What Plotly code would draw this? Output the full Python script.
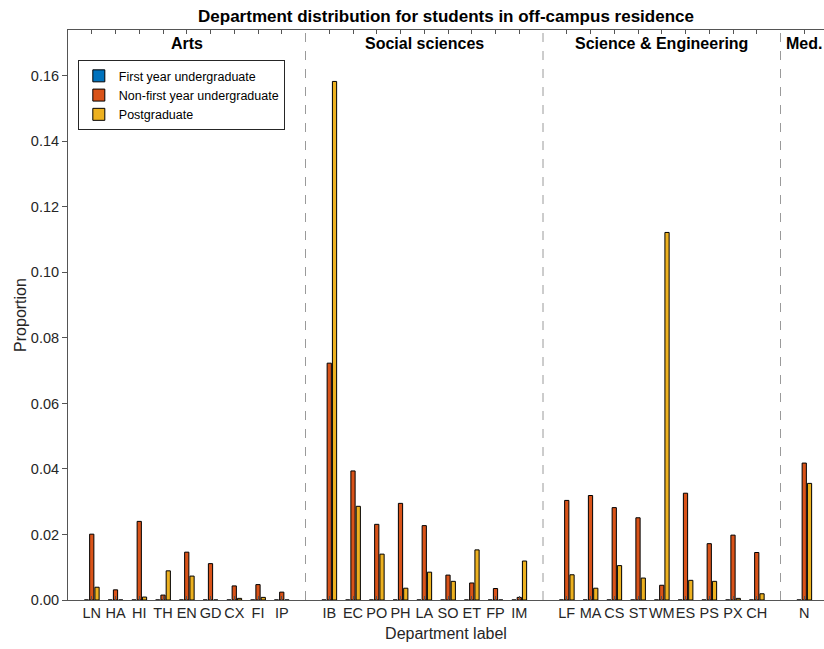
import plotly.graph_objects as go

# ---- data ----
group_names = ["Arts", "Social sciences", "Science & Engineering", "Med."]
arts = ["LN", "HA", "HI", "TH", "EN", "GD", "CX", "FI", "IP"]
social = ["IB", "EC", "PO", "PH", "LA", "SO", "ET", "FP", "IM"]
scieng = ["LF", "MA", "CS", "ST", "WM", "ES", "PS", "PX", "CH"]
med = ["N"]
groups = [arts, social, scieng, med]

series_names = ["First year undergraduate", "Non-first year undergraduate", "Postgraduate"]
first_year = [0.0] * 28
non_first_year = [
    0.0201, 0.0031, 0.0240, 0.0015, 0.0146, 0.0111, 0.0043, 0.0047, 0.0024,
    0.0723, 0.0394, 0.0231, 0.0295, 0.0227, 0.0076, 0.0052, 0.0035, 0.0008,
    0.0304, 0.0319, 0.0282, 0.0251, 0.0045, 0.0326, 0.0172, 0.0198, 0.0145,
    0.0418,
]
postgraduate = [
    0.0039, 0.0, 0.0009, 0.0089, 0.0073, 0.0, 0.0005, 0.0008, 0.0,
    0.1583, 0.0286, 0.0140, 0.0036, 0.0085, 0.0057, 0.0153, 0.0, 0.0119,
    0.0077, 0.0036, 0.0105, 0.0067, 0.1122, 0.0060, 0.0057, 0.0005, 0.0019,
    0.0356,
]
series_values = [first_year, non_first_year, postgraduate]
colors = ["#0072BD", "#D95319", "#EDB120"]

# positions: one empty slot between groups
labels, xpos, sep_pos, group_centers = [], [], [], []
pos = 1
for gi, g in enumerate(groups):
    start = pos
    for c in g:
        labels.append(c)
        xpos.append(pos)
        pos += 1
    group_centers.append((start + pos - 1) / 2)
    if gi < len(groups) - 1:
        sep_pos.append(pos)
        pos += 1

fig = go.Figure()
for name, vals, col in zip(series_names, series_values, colors):
    fig.add_trace(go.Bar(
        x=xpos, y=vals, name=name,
        marker=dict(color=col, line=dict(color="black", width=1)),
    ))

for s in sep_pos:
    fig.add_shape(type="line", x0=s, x1=s, y0=0, y1=1, xref="x", yref="paper",
                  line=dict(color="#9a9a9a", width=1, dash="dash"))

for gname, cx in zip(group_names, group_centers):
    fig.add_annotation(x=cx, y=0.977, xref="x", yref="paper", text="<b>%s</b>" % gname,
                       showarrow=False, font=dict(size=16, color="black"),
                       xanchor="center", yanchor="middle")

axis_col = "#555555"
fig.update_layout(
    width=824, height=649,
    margin=dict(l=68, r=0, t=30, b=49),
    paper_bgcolor="white", plot_bgcolor="white",
    font=dict(family="Liberation Sans, Arial, sans-serif", size=14, color="#262626"),
    barmode="group", bargap=0.333, bargroupgap=0.2,
    title=dict(text="<b>Department distribution for students in off-campus residence</b>",
               x=0.5, xref="paper", xanchor="center", y=1 - 16 / 649, yanchor="middle",
               font=dict(size=17, color="black")),
    legend=dict(x=0.013, y=0.947, xanchor="left", yanchor="top",
                bgcolor="white", bordercolor="#262626", borderwidth=1,
                font=dict(size=12.5, color="black"), tracegroupgap=0,
                itemwidth=30),
    showlegend=True,
)
fig.update_xaxes(
    range=[0, (824 - 68) / 23.75],
    tickmode="array", tickvals=xpos, ticktext=labels, tickangle=0,
    ticks="inside", ticklen=4, tickcolor=axis_col,
    showline=True, linecolor=axis_col, linewidth=1, mirror="ticks",
    showgrid=False, zeroline=False, automargin=False,
    title=dict(text="Department label", standoff=7, font=dict(size=16)),
    tickfont=dict(size=14.5),
)
fig.update_yaxes(
    range=[0, 0.174],
    tickvals=[0, 0.02, 0.04, 0.06, 0.08, 0.10, 0.12, 0.14, 0.16],
    tickformat=".2f",
    ticks="outside", ticklen=5, tickcolor=axis_col,
    showline=True, linecolor=axis_col, linewidth=1, mirror=False,
    showgrid=False, zeroline=False, automargin=False,
    title=dict(text="Proportion", standoff=0, font=dict(size=16)),
    tickfont=dict(size=14.5),
)

fig.write_html("out.html", config={"displayModeBar": False},
               post_script="document.body.style.margin='0';document.body.style.padding='0';")
